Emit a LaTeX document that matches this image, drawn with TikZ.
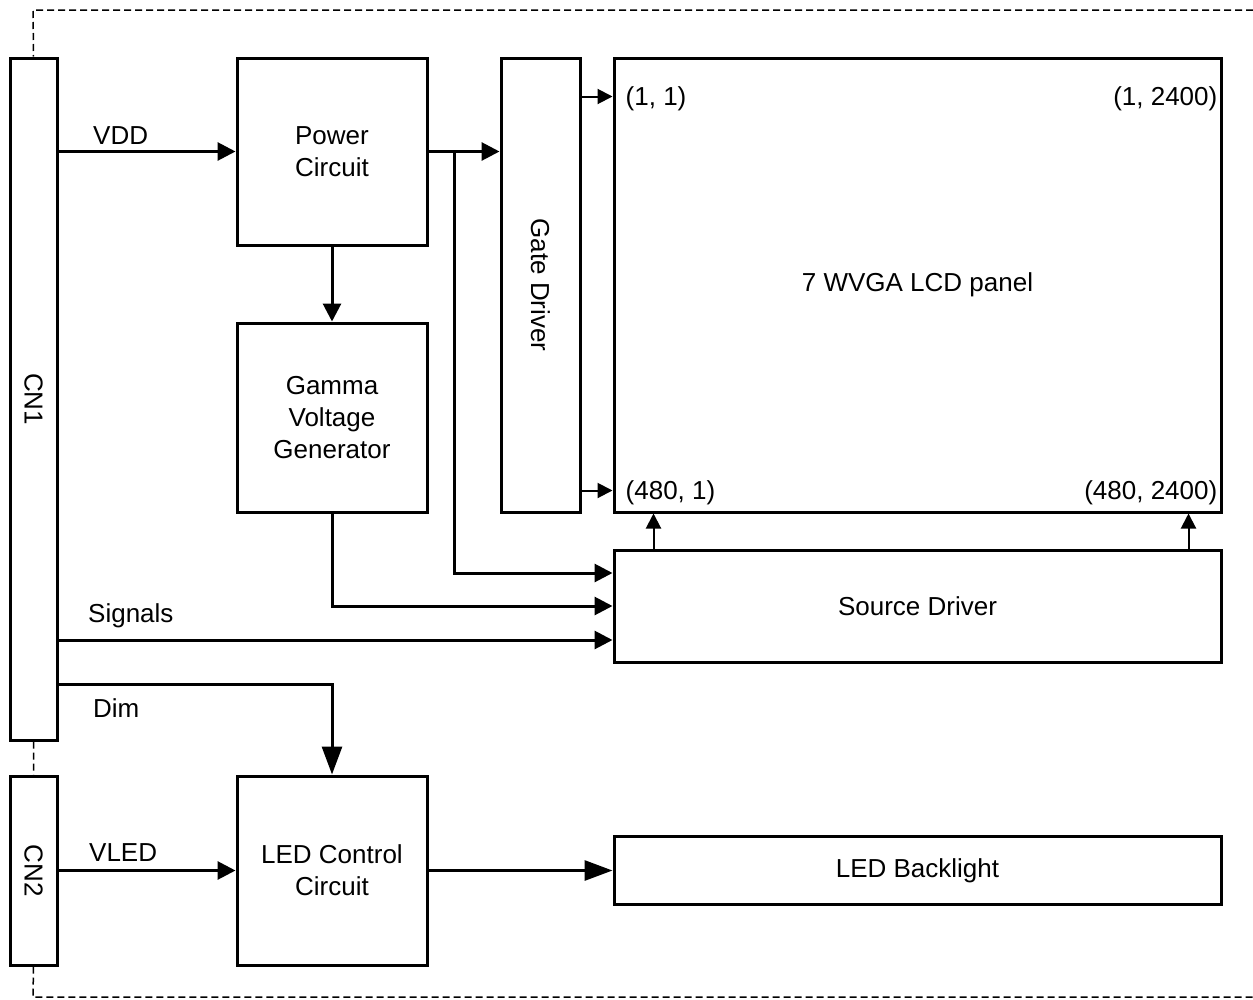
\documentclass[tikz,border=0pt]{standalone}
\usepackage{fontspec}
\setmainfont{Liberation Sans}
\usetikzlibrary{arrows.meta,calc,positioning}
\tikzset{blk/.style={draw=black, line width=3pt, align=center, inner sep=0pt},
    conn/.style={line width=3pt, -{Triangle[length=18pt,width=18pt]}},
    bigconn/.style={line width=3pt, -{Triangle[length=28pt,width=20pt]}},
    thinconn/.style={line width=2pt, -{Triangle[length=15pt,width=15pt]}},
    lbl/.style={inner sep=0pt},
    frame/.style={line width=1.5pt, dash pattern=on 7pt off 4pt}}

\begin{document}
\begin{tikzpicture}[x=1pt, y=-1pt, font=\fontsize{26}{32}\selectfont]
                        \useasboundingbox (0,0) rectangle (1253,999);
                        \node[blk, minimum width=47, minimum height=682] (cn1) at (33.5,399) {};
                        \node[blk, minimum width=47, minimum height=189] (cn2) at (33.5,870.5) {};
                        \node[rotate=-90, lbl] at (cn1) {CN1};
                        \node[rotate=-90, lbl] at (cn2) {CN2};
                        \node[blk, minimum width=190, minimum height=187] (pwr) at (332,151.5) {Power\\Circuit};
                        \node[blk, minimum width=190, minimum height=189] (gam) at (332,417.5) {Gamma\\Voltage\\Generator};
                        \node[blk, minimum width=79, minimum height=454] (gate) at (540.5,285) {};
                        \node[rotate=-90, lbl] at (gate) {Gate Driver};
                        \node[blk, minimum width=607, minimum height=454] (lcd) at (917.5,285) {7 WVGA LCD panel};
                        \node[blk, minimum width=607, minimum height=112] (src) at (917.5,606) {Source Driver};
                        \node[blk, minimum width=190, minimum height=189] (ledc) at (332,870.5) {LED Control\\Circuit};
                        \node[blk, minimum width=607, minimum height=68] (bl) at (917.5,870.5) {LED Backlight};
                        \node[lbl, anchor=base west] at ($(lcd.north west)+(13,49)$) {(1, 1)};
                        \node[lbl, anchor=base east] at ($(lcd.north east)+(-5,49)$) {(1, 2400)};
                        \node[lbl, anchor=base west] at ($(lcd.south west)+(13,-14)$) {(480, 1)};
                        \node[lbl, anchor=base east] at ($(lcd.south east)+(-5,-14)$) {(480, 2400)};
                        \coordinate (br) at ($(pwr.east)+(26,0)$);
                        \coordinate (sig) at ($(src.west)+(0,34)$);
                        \coordinate (dim) at ($(cn1.south east)+(0,-57)$);
                        \draw[conn] (pwr.west -| cn1.east) -- (pwr.west);
                        \draw[conn] (pwr.east) -- (pwr.east -| gate.west);
                        \draw[conn] (br) |- ($(src.west)+(0,-33)$);
                        \draw[conn] (pwr.south) -- (gam.north);
                        \draw[conn] (gam.south) |- (src.west);
                        \draw[conn] (sig -| cn1.east) -- (sig);
                        \draw[thinconn] ($(gate.north east)+(0,40)$) -- ($(lcd.north west)+(0,40)$);
                        \draw[thinconn] ($(gate.south east)+(0,-23)$) -- ($(lcd.south west)+(0,-23)$);
                        \draw[thinconn] ($(src.north west)+(41,0)$) -- ($(lcd.south west)+(41,0)$);
                        \draw[thinconn] ($(src.north east)+(-34,0)$) -- ($(lcd.south east)+(-34,0)$);
                        \draw[bigconn] (dim) -| (ledc.north);
                        \draw[conn] (ledc.west -| cn2.east) -- (ledc.west);
                        \draw[bigconn] (ledc.east) -- (bl.west);
                        \node[lbl, anchor=base west] at (93,144) {VDD};
                        \node[lbl, anchor=base west] at (88,622) {Signals};
                        \node[lbl, anchor=base west] at (93,717) {Dim};
                        \node[lbl, anchor=base west] at (89,861) {VLED};
                        \draw[frame]
                        (1253,10) -- (33,10) -- (cn1.north)
                        (cn1.south) -- (cn2.north)
                        (cn2.south) -- (33,997) -- (1253,997);
                    \end{tikzpicture}
\end{document}
